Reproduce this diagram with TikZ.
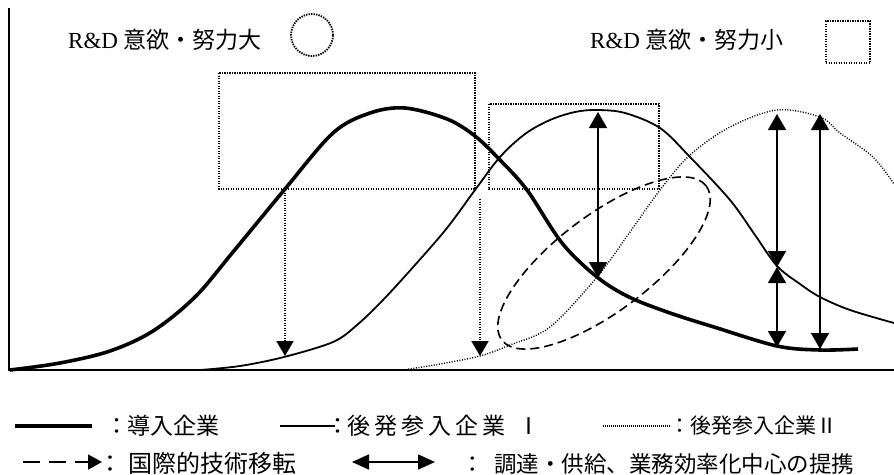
\documentclass[tikz,border=0pt]{standalone}
\usepackage{fontspec}
\setmainfont{Liberation Serif}
\newfontfamily\jp{Noto Sans CJK JP}
\usetikzlibrary{arrows.meta}
\newcommand{\colbox}[1]{\makebox[#1][c]{：}}
\newcommand{\lsp}{\hspace{4pt}}
\begin{document}
\begin{tikzpicture}[x=1pt,y=-1pt,
  thickc/.style={line width=3.6pt, line join=round},
  thinc/.style={line width=1.8pt},
  dotc/.style={line width=1.4pt, dash pattern=on 1pt off 1.6pt},
  rdbox/.style={line width=1.8pt, dash pattern=on 1.4pt off 1.1pt},
  ellc/.style={line width=1.6pt, dash pattern=on 9pt off 5pt},
  axis/.style={line width=1.6pt},
  tipd/.style={-{Triangle[width=17pt,length=15pt]}},
  dtip/.style={line width=1.5pt,{Triangle[width=18pt,length=16pt]}-{Triangle[width=18pt,length=16pt]}},
  hdr/.style={anchor=base west, inner sep=0pt, font=\fontsize{23}{23}\selectfont},
  lbl/.style={anchor=base west, inner sep=0pt, font=\jp},
]
\useasboundingbox (0,0) rectangle (894,474);
% axes
\draw[axis] (9,8) -- (9,370) -- (894,370);
% headers
\node[hdr] (h1) at (68,48) {R\&D {\jp 意欲・努力大}};
\node[draw, circle, rdbox, minimum size=42pt, inner sep=0pt] (c1) at (312,35) {};
\node[hdr] (h2) at (590,48) {R\&D {\jp 意欲・努力小}};
\node[draw, rectangle, rdbox, minimum width=44pt, minimum height=42pt, inner sep=0pt] (s1) at (848,42) {};
% R&D boxes
\draw[rdbox] (219,73) rectangle (475,189);
\draw[rdbox] (489,104) rectangle (659,189);
% curves
\draw[thickc] plot[smooth, tension=0.55] coordinates {(10,370) (60,363) (110,351) (153,331) (195,297) (233,252) (285,189) (333,133) (370,113) (405,108) (447,119) (475,136) (500,160) (527,190) (562,243) (597,277) (629,297) (670,313) (714,327) (777,346) (820,350) (858,349)};
\draw[thinc] plot[smooth, tension=0.55] coordinates {(200,370) (240,366) (284,357) (333,342) (357,325) (383,300) (415,265) (447,228) (475,190) (500,157) (525,134) (550,120) (575,112) (597,110) (625,113) (660,128) (690,157) (730,200) (755,235) (777,266) (800,284) (820,297) (850,310) (894,323)};
\draw[dotc] plot[smooth, tension=0.55] coordinates {(403,370) (440,364) (480,356) (510,345) (550,327) (597,277) (630,232) (660,190) (690,155) (730,127) (777,110) (820,117) (840,133) (873,157) (894,184)};
% dashed ellipse
\draw[ellc, rotate around={37:(604,263)}] (604,263) ellipse [x radius=128pt, y radius=48pt];
% arrow end points
\coordinate (a1s) at (285,190);
\coordinate (a1e) at (285,356);
\coordinate (a2s) at (480,199);
\coordinate (a2e) at (480,356);
\coordinate (d1t) at (598,112);
\coordinate (d1b) at (598,278);
\coordinate (d2t) at (777,114);
\coordinate (d2m) at (777,267);
\coordinate (d2b) at (777,347);
\coordinate (d3t) at (820,114);
\coordinate (d3b) at (820,349);
\draw[rdbox, tipd] (a1s) -- (a1e);
\draw[rdbox, tipd] (a2s) -- (a2e);
\draw[dtip] (d1t) -- (d1b);
\draw[dtip] (d2t) -- (d2m);
\draw[dtip] (d2m) -- (d2b);
\draw[dtip] (d3t) -- (d3b);
% legend
\coordinate (k1a) at (15,426); \coordinate (k1b) at (92,426);
\coordinate (k2a) at (280,426); \coordinate (k2b) at (335,426);
\coordinate (k3a) at (603,426); \coordinate (k3b) at (671,426);
\coordinate (k4a) at (23,462); \coordinate (k4b) at (102,462);
\coordinate (k5a) at (352,462); \coordinate (k5b) at (435,462);
\draw[line width=4pt] (k1a) -- (k1b);
\draw[thinc] (k2a) -- (k2b);
\draw[line width=1.2pt, dash pattern=on 0.8pt off 1.2pt] (k3a) -- (k3b);
\draw[line width=1.6pt, dash pattern=on 17pt off 9pt, -{Triangle[width=15pt,length=14pt]}] (k4a) -- (k4b);
\draw[line width=1.6pt, {Triangle[width=15pt,length=17pt]}-{Triangle[width=15pt,length=17pt]}] (k5a) -- (k5b);
\node[lbl, font=\fontsize{23}{23}\selectfont\jp] (l1) at (107,434) {\colbox{20pt}導入企業};
\node[lbl, font=\fontsize{23}{23}\selectfont\jp] (l2) at (329,434) {\colbox{18pt}後\lsp 発\lsp 参\lsp 入\lsp 企\lsp 業\hspace{12pt}Ⅰ};
\node[lbl, font=\fontsize{21}{21}\selectfont\jp] (l3) at (670,433) {\colbox{20pt}後発参入企業Ⅱ};
\node[lbl, font=\fontsize{24}{24}\selectfont\jp] (l4) at (92,472) {\colbox{36pt}国際的技術移転};
\node[lbl, font=\fontsize{22.5}{22.5}\selectfont\jp] (l5) at (452,472) {\colbox{42pt}調達・供給、業務効率化中心の提携};
\end{tikzpicture}
\end{document}
